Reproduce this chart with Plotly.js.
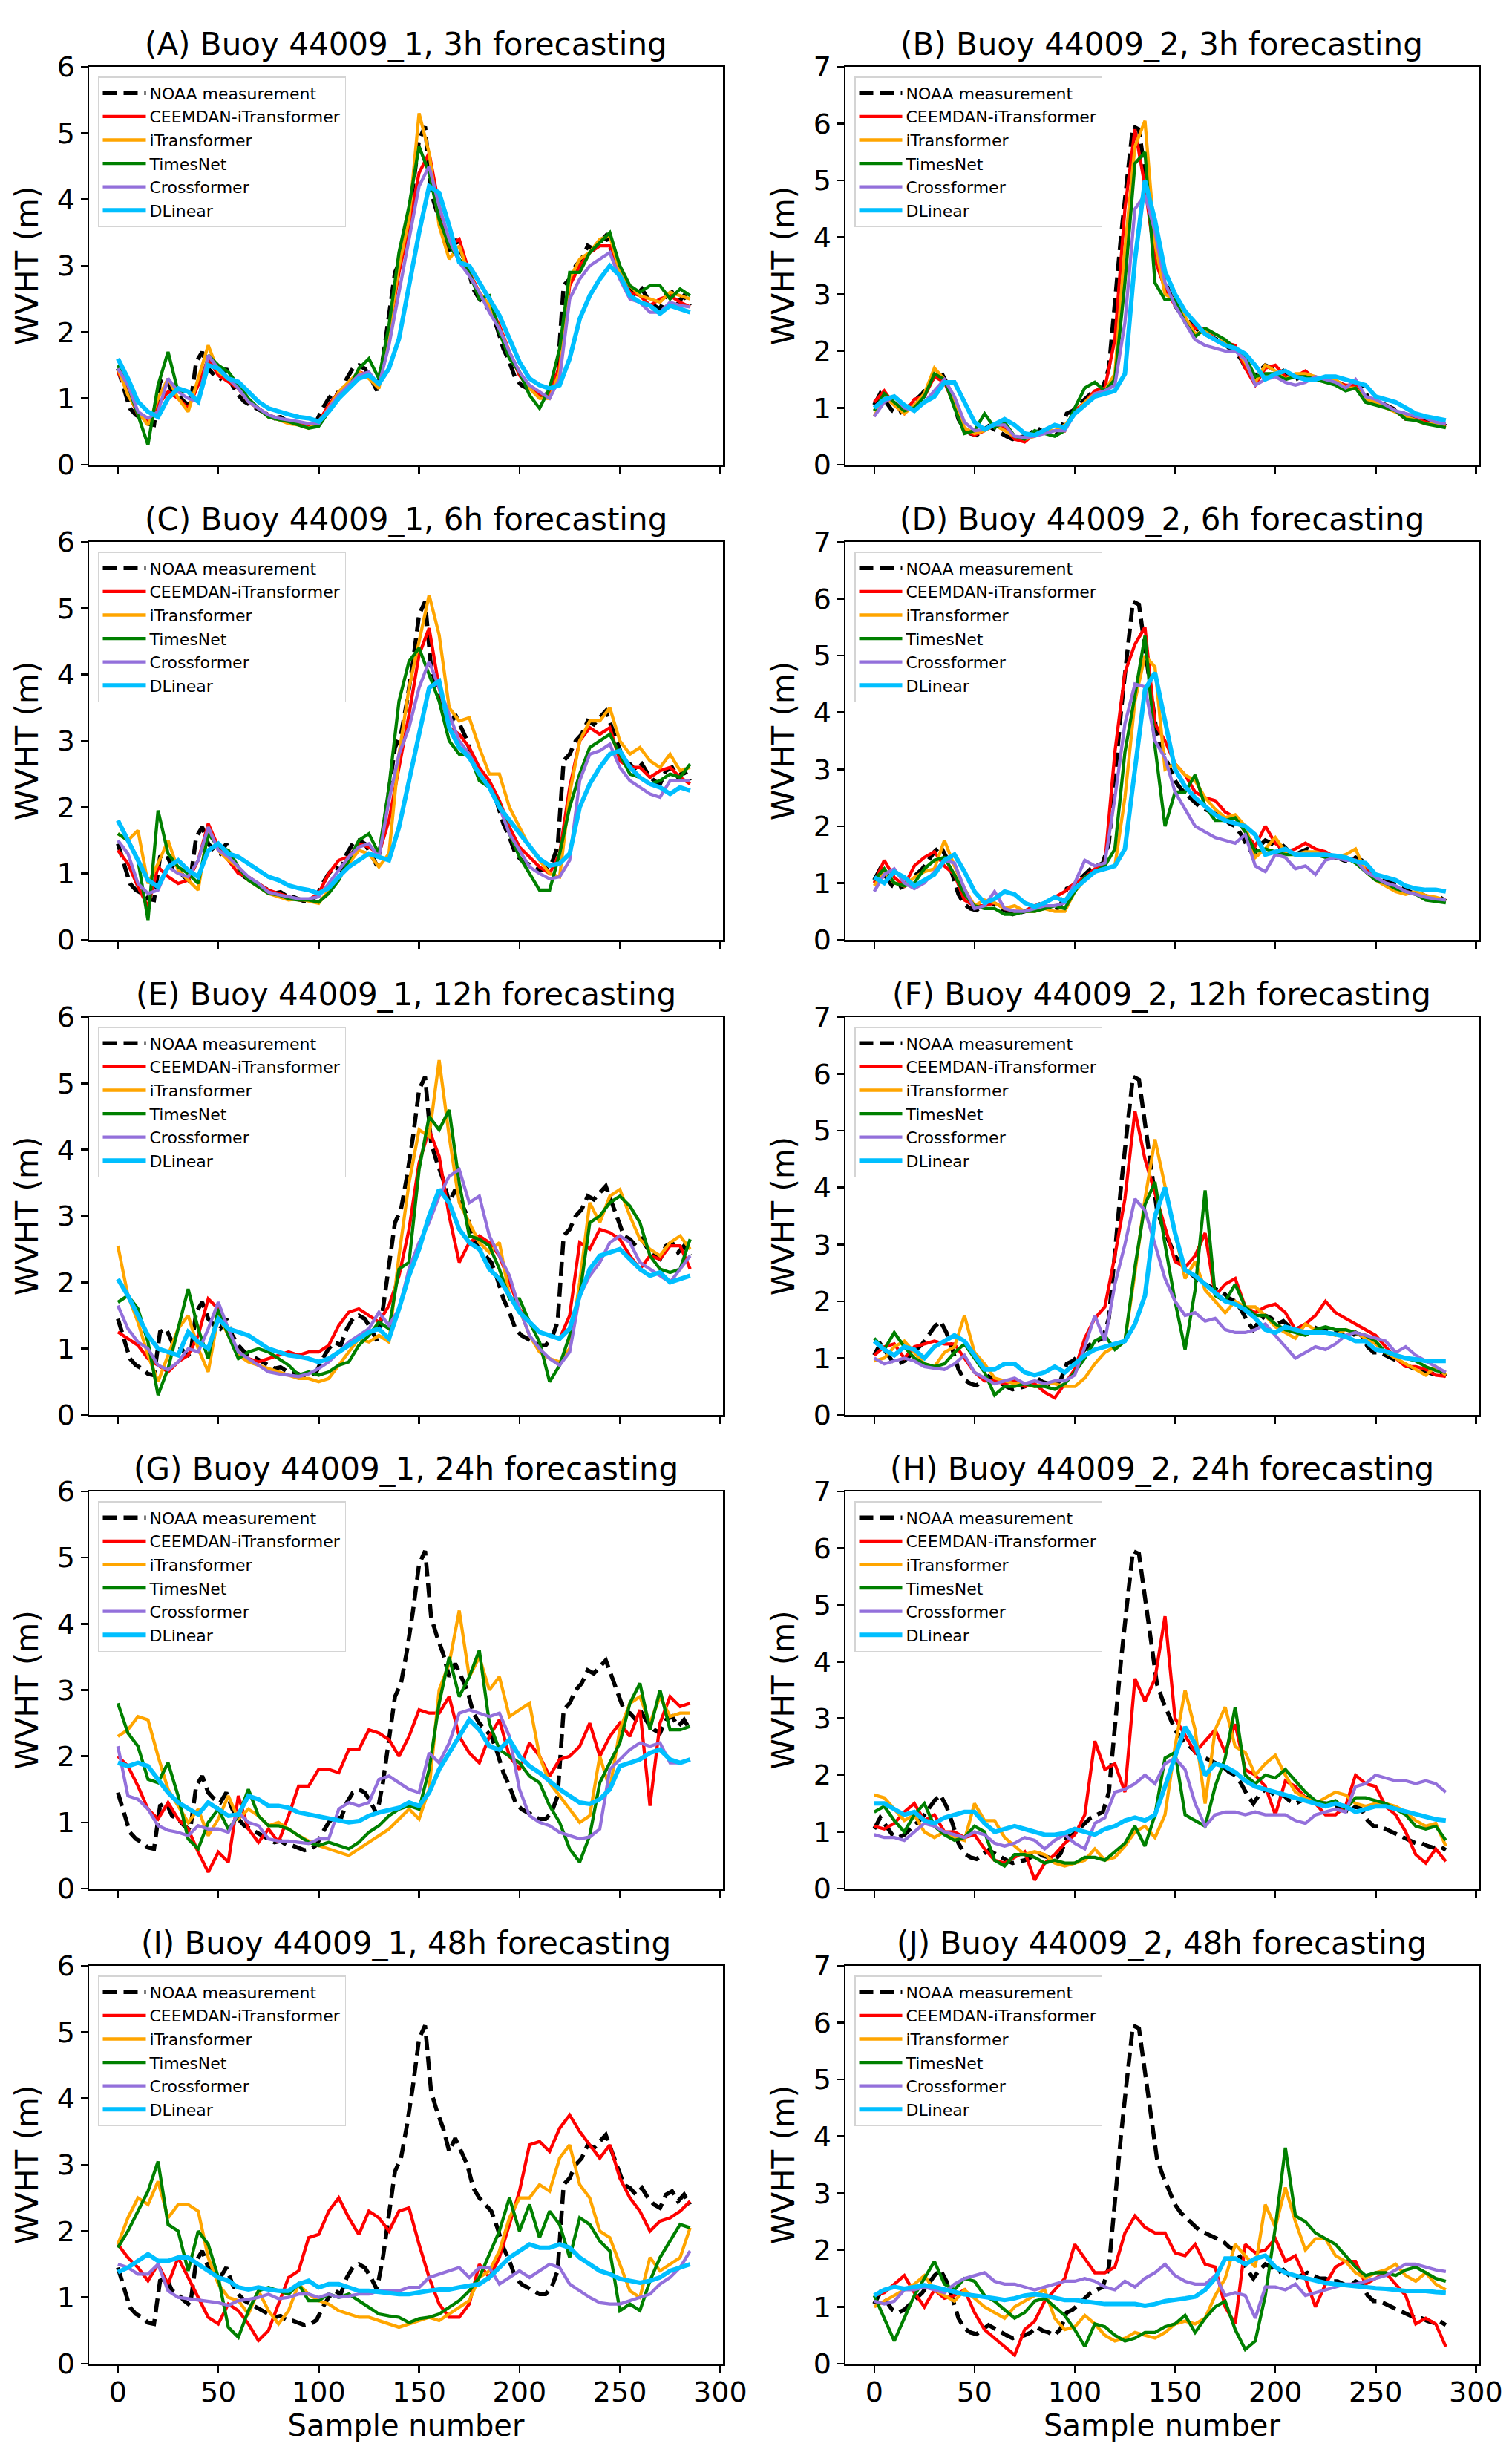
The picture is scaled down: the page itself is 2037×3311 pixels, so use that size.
<!DOCTYPE html>
<html>
<head>
<meta charset="utf-8">
<script src="https://cdn.plot.ly/plotly-3.0.1.min.js"></script>
<style>
  body { margin: 0; background: #fff; }
  #myDiv { width: 2037px; height: 3311px; }
</style>
</head>
<body>
<div id="myDiv"></div>
<script>
// sample numbers (measurement drawn every 3rd sample, forecasts every 5th)
var sampleM = [0,3,6,9,12,15,18,21,24,27,30,33,36,39,42,45,48,51,54,57,60,63,66,69,72,75,78,81,84,87,
  90,93,96,99,102,105,108,111,114,117,120,123,126,129,132,135,138,141,144,147,150,153,156,159,162,165,168,171,174,177,
  180,183,186,189,192,195,198,201,204,207,210,213,216,219,222,225,228,231,234,237,240,243,246,249,252,255,258,261,264,267,
  270,273,276,279,282,285]
var sampleP = [0,5,10,15,20,25,30,35,40,45,50,55,60,65,70,75,80,85,90,95,100,105,110,115,120,125,130,135,140,145,
  150,155,160,165,170,175,180,185,190,195,200,205,210,215,220,225,230,235,240,245,250,255,260,265,270,275,280,285]

// NOAA measurements
var meas1 = [1.45,1.15,0.85,0.75,0.70,0.62,0.60,1.25,1.30,1.10, 1.05,0.95,0.88,1.55,1.70,1.45,1.35,1.30,1.45,1.20,
  1.05,0.95,0.90,0.85,0.80,0.75,0.70,0.72,0.66,0.65, 0.62,0.58,0.60,0.66,0.85,1.00,1.10,1.05,1.30,1.45,
  1.50,1.45,1.30,1.12,1.60,2.30,2.90,3.10,3.60,4.20, 4.90,5.10,4.10,3.80,3.55,3.20,3.40,3.20,3.00,2.65,
  2.50,2.40,2.30,2.05,1.75,1.55,1.30,1.20,1.15,1.10, 1.05,1.05,1.15,1.40,2.70,2.80,3.00,3.10,3.30,3.25,
  3.35,3.45,3.20,2.95,2.70,2.65,2.55,2.65,2.50,2.40, 2.35,2.55,2.60,2.45,2.55,2.40]
var meas2 = [1.05,1.25,1.10,0.95,0.90,0.95,1.05,1.15,1.25,1.40, 1.55,1.65,1.45,1.15,0.80,0.62,0.55,0.52,0.60,0.68,
  0.62,0.55,0.50,0.45,0.47,0.50,0.55,0.65,0.58,0.55, 0.50,0.62,0.90,0.95,1.05,1.15,1.25,1.30,1.35,1.70,
  2.90,4.00,5.00,5.95,5.90,5.10,4.30,3.60,3.30,3.05, 2.80,2.65,2.55,2.45,2.35,2.30,2.25,2.20,2.15,2.05,
  2.00,1.85,1.65,1.50,1.65,1.75,1.70,1.60,1.65,1.55, 1.50,1.55,1.60,1.55,1.50,1.50,1.45,1.45,1.40,1.35,
  1.45,1.40,1.20,1.10,1.10,1.05,1.00,0.95,0.90,0.85, 0.80,0.80,0.75,0.72,0.75,0.68]

// (A) 44009_1, 3h
var ceemdanA = [1.40,1.10,0.75,0.65,0.90,1.10,1.00,0.85,1.20,1.60, 1.35,1.25,1.15,0.95,0.85,0.75,0.70,0.65,0.62,0.60,
  0.65,0.90,1.10,1.20,1.40,1.35,1.20,2.00,2.90,3.60, 4.40,4.70,3.90,3.30,3.40,2.90,2.60,2.40,2.10,1.70,
  1.35,1.15,1.05,1.05,1.50,2.70,3.00,3.20,3.30,3.30, 2.90,2.60,2.55,2.40,2.50,2.55,2.45,2.38]
var itransA = [1.45,1.05,0.80,0.60,1.00,1.30,1.00,0.80,1.30,1.80, 1.40,1.30,1.15,0.95,0.85,0.72,0.68,0.62,0.60,0.55,
  0.62,0.85,1.10,1.25,1.40,1.30,1.15,2.00,3.00,3.70, 5.30,4.70,3.60,3.10,3.30,2.85,2.60,2.40,2.05,1.70,
  1.40,1.15,1.00,1.00,1.40,2.80,3.10,3.20,3.40,3.45, 2.90,2.70,2.55,2.50,2.45,2.60,2.55,2.50]
var timesA = [1.50,1.20,0.75,0.30,1.20,1.70,1.10,1.10,0.95,1.65, 1.50,1.40,1.20,1.00,0.85,0.72,0.68,0.65,0.60,0.55,
  0.58,0.80,1.05,1.15,1.45,1.60,1.30,2.10,3.20,3.90, 4.80,4.40,3.70,3.30,3.10,2.90,2.50,2.55,2.00,1.60,
  1.40,1.05,0.85,1.15,1.75,2.90,2.90,3.20,3.35,3.50, 3.00,2.70,2.60,2.70,2.70,2.50,2.65,2.55]
var crossA = [1.45,1.20,0.80,0.70,0.80,1.30,1.10,1.00,0.95,1.65, 1.45,1.30,1.15,0.95,0.85,0.75,0.70,0.68,0.65,0.62,
  0.62,0.85,1.05,1.20,1.35,1.40,1.20,1.80,2.60,3.40, 4.20,4.50,3.90,3.40,3.05,2.85,2.60,2.30,2.05,1.70,
  1.40,1.20,1.10,1.00,1.30,2.50,2.80,3.00,3.10,3.20, 2.80,2.50,2.45,2.30,2.30,2.45,2.40,2.38]
var dlinA = [1.60,1.30,0.95,0.80,0.72,1.00,1.15,1.10,0.95,1.50, 1.45,1.30,1.25,1.10,0.95,0.85,0.80,0.76,0.72,0.70,
  0.65,0.80,1.00,1.15,1.30,1.35,1.22,1.45,1.90,2.70, 3.50,4.20,4.10,3.60,3.05,3.00,2.75,2.50,2.25,1.90,
  1.55,1.30,1.20,1.15,1.20,1.60,2.20,2.55,2.80,3.00, 2.85,2.55,2.45,2.40,2.28,2.40,2.35,2.30]

// (B) 44009_2, 3h
var ceemdanB = [1.10,1.30,1.05,0.90,1.15,1.20,1.55,1.45,1.05,0.60, 0.52,0.60,0.70,0.65,0.45,0.40,0.55,0.60,0.70,0.60,
  0.95,1.10,1.30,1.35,2.20,4.50,5.90,4.90,3.60,3.10, 2.80,2.55,2.40,2.40,2.20,2.15,2.10,1.70,1.40,1.70,
  1.75,1.55,1.55,1.65,1.50,1.50,1.45,1.40,1.40,1.15, 1.10,1.05,0.95,0.80,0.80,0.75,0.70,0.70]
var itransB = [0.85,1.20,1.05,0.90,1.05,1.25,1.70,1.50,1.10,0.65, 0.55,0.60,0.70,0.60,0.50,0.45,0.50,0.62,0.60,0.70,
  0.90,1.10,1.25,1.30,1.60,3.80,5.60,6.05,3.90,3.00, 2.90,2.60,2.30,2.35,2.20,2.15,2.05,1.80,1.45,1.75,
  1.65,1.50,1.60,1.60,1.55,1.45,1.50,1.35,1.35,1.15, 1.10,1.00,0.92,0.85,0.78,0.72,0.72,0.65]
var timesB = [0.95,1.25,1.10,0.95,1.00,1.20,1.60,1.50,1.00,0.55, 0.60,0.90,0.65,0.75,0.50,0.45,0.60,0.55,0.50,0.60,
  1.00,1.35,1.45,1.30,1.50,3.20,5.30,5.50,3.20,2.90, 2.90,2.50,2.25,2.40,2.30,2.20,2.05,1.90,1.55,1.60,
  1.60,1.50,1.55,1.55,1.50,1.45,1.40,1.30,1.35,1.10, 1.05,1.00,0.95,0.80,0.78,0.72,0.68,0.65]
var crossB = [0.85,1.10,1.20,1.00,0.95,1.10,1.30,1.50,1.20,0.75, 0.60,0.62,0.70,0.70,0.50,0.48,0.50,0.55,0.60,0.60,
  0.90,1.05,1.25,1.30,1.40,2.50,4.50,4.75,4.10,3.20, 2.80,2.50,2.20,2.10,2.05,2.00,2.00,1.85,1.40,1.50,
  1.55,1.45,1.40,1.45,1.55,1.50,1.45,1.35,1.50,1.20, 1.15,1.05,0.95,0.90,0.85,0.82,0.75,0.72]
var dlinB = [1.00,1.15,1.20,1.05,0.95,1.10,1.20,1.45,1.45,1.10, 0.75,0.62,0.70,0.80,0.70,0.55,0.52,0.60,0.70,0.65,
  0.90,1.05,1.20,1.25,1.30,1.60,3.60,5.00,4.30,3.40, 3.00,2.70,2.50,2.30,2.20,2.10,2.05,1.95,1.75,1.50,
  1.60,1.65,1.55,1.50,1.50,1.55,1.55,1.50,1.45,1.40, 1.20,1.15,1.10,1.00,0.90,0.85,0.82,0.78]

// (C) 44009_1, 6h
var ceemdanC = [1.35,1.15,0.80,0.50,1.10,0.95,0.85,0.90,1.20,1.75, 1.40,1.20,1.00,0.95,0.85,0.75,0.70,0.65,0.60,0.60,
  0.70,1.00,1.20,1.25,1.45,1.40,1.30,1.80,2.60,3.40, 4.30,4.70,3.80,3.20,3.10,2.90,2.60,2.40,2.10,1.70,
  1.40,1.25,1.10,1.00,1.30,2.30,3.00,3.20,3.10,3.20, 2.70,2.60,2.60,2.45,2.55,2.60,2.45,2.35]
var itransC = [1.60,1.50,1.65,0.85,1.15,1.50,1.05,0.90,0.75,1.70, 1.35,1.20,1.10,0.90,0.80,0.70,0.65,0.60,0.62,0.58,
  0.55,0.75,0.95,1.15,1.35,1.30,1.10,1.30,2.80,3.80, 4.50,5.20,4.60,3.50,3.30,3.35,2.90,2.50,2.50,2.00,
  1.70,1.40,1.20,1.00,0.95,2.20,3.00,3.30,3.30,3.50, 3.00,2.80,2.90,2.70,2.60,2.80,2.55,2.60]
var timesC = [1.60,1.50,1.20,0.30,1.95,1.30,1.10,1.00,0.85,1.60, 1.40,1.35,1.10,0.90,0.80,0.70,0.68,0.62,0.60,0.60,
  0.57,0.70,0.90,1.20,1.50,1.60,1.30,2.30,3.60,4.20, 4.40,4.00,3.60,3.00,2.80,2.80,2.40,2.30,2.05,1.60,
  1.25,1.00,0.75,0.75,1.30,2.00,2.50,2.90,3.00,3.10, 2.80,2.50,2.45,2.35,2.40,2.50,2.45,2.65]
var crossC = [1.50,1.30,0.85,0.70,0.75,1.10,1.00,0.95,1.20,1.70, 1.35,1.25,1.10,0.95,0.85,0.72,0.68,0.65,0.62,0.62,
  0.65,0.85,1.05,1.25,1.40,1.45,1.25,2.10,2.80,3.20, 3.80,4.20,3.80,3.40,3.00,2.80,2.50,2.30,2.00,1.60,
  1.35,1.10,1.00,0.92,0.95,1.20,2.40,2.80,2.85,2.95, 2.60,2.40,2.30,2.20,2.15,2.40,2.40,2.40]
var dlinC = [1.80,1.50,1.20,0.90,0.80,1.10,1.20,1.05,0.95,1.35, 1.45,1.30,1.25,1.15,1.05,0.95,0.90,0.82,0.78,0.75,
  0.70,0.78,0.95,1.10,1.20,1.30,1.25,1.20,1.70,2.40, 3.10,3.80,3.90,3.20,2.90,2.75,2.50,2.30,2.00,1.80,
  1.60,1.40,1.22,1.12,1.15,1.30,2.00,2.35,2.60,2.80, 2.85,2.60,2.45,2.35,2.30,2.20,2.30,2.25]

// (D) 44009_2, 6h
var ceemdanD = [1.00,1.40,1.10,0.95,1.30,1.45,1.55,1.30,1.15,0.70, 0.60,0.60,0.65,0.55,0.50,0.50,0.60,0.65,0.75,0.85,
  1.00,1.10,1.25,1.35,3.30,4.70,5.20,5.50,3.80,3.50, 3.10,2.90,2.60,2.50,2.45,2.25,2.15,1.90,1.65,2.00,
  1.70,1.55,1.60,1.70,1.60,1.55,1.45,1.45,1.40,1.25, 1.10,1.00,0.90,0.85,0.80,0.78,0.72,0.70]
var itransD = [0.95,1.20,1.00,0.95,1.10,1.20,1.25,1.75,1.30,0.90, 0.60,0.70,0.65,0.55,0.60,0.50,0.50,0.55,0.50,0.50,
  0.85,1.05,1.20,1.25,1.30,2.50,4.20,5.00,4.80,3.00, 3.10,2.90,2.80,2.50,2.30,2.15,2.20,2.00,1.45,1.60,
  1.80,1.55,1.50,1.55,1.55,1.50,1.45,1.50,1.60,1.20, 1.05,0.95,0.85,0.80,0.85,0.78,0.75,0.70]
var timesD = [1.05,1.25,1.00,0.95,1.00,1.25,1.40,1.45,1.15,0.80, 0.60,0.55,0.55,0.45,0.45,0.50,0.50,0.55,0.60,0.55,
  0.85,1.10,1.20,1.30,1.60,3.30,4.30,5.35,3.40,2.00, 2.60,2.60,2.90,2.35,2.10,2.10,2.15,1.90,1.55,1.60,
  1.55,1.50,1.50,1.50,1.50,1.45,1.45,1.45,1.35,1.20, 1.05,1.00,0.90,0.85,0.80,0.70,0.68,0.65]
var crossD = [0.85,1.15,1.25,1.00,0.90,1.00,1.20,1.40,1.35,0.90, 0.55,0.60,0.85,0.55,0.50,0.50,0.55,0.60,0.60,0.65,
  1.00,1.40,1.30,1.35,2.50,3.80,4.50,4.45,3.50,3.20, 2.60,2.30,2.00,1.90,1.80,1.75,1.70,1.85,1.30,1.20,
  1.50,1.45,1.25,1.30,1.15,1.40,1.45,1.40,1.40,1.20, 1.10,1.00,0.95,0.85,0.80,0.75,0.72,0.70]
var dlinD = [1.10,1.00,1.20,1.10,0.95,1.05,1.15,1.40,1.50,1.20, 0.85,0.65,0.72,0.85,0.80,0.65,0.58,0.65,0.75,0.68,
  0.90,1.05,1.20,1.25,1.30,1.60,3.00,4.40,4.70,3.80, 3.00,2.70,2.50,2.35,2.20,2.10,2.05,2.00,1.85,1.50,
  1.55,1.60,1.50,1.50,1.50,1.50,1.48,1.45,1.38,1.35, 1.15,1.10,1.05,0.95,0.90,0.88,0.88,0.85]

// (E) 44009_1, 12h
var ceemdanE = [1.25,1.15,1.05,0.85,0.75,0.65,0.80,0.90,1.20,1.75, 1.60,1.25,0.95,0.85,0.80,0.85,0.90,0.95,0.90,0.95,
  0.95,1.05,1.35,1.55,1.60,1.50,1.40,1.65,2.10,2.80, 3.80,4.30,3.90,3.00,2.30,2.60,2.70,2.60,2.40,2.00,
  1.60,1.40,1.25,1.20,1.15,1.50,2.60,2.50,2.80,2.75, 2.65,2.40,2.20,2.40,2.35,2.55,2.55,2.20]
var itransE = [2.55,1.80,1.40,0.90,0.50,0.90,1.30,1.50,1.00,0.65, 1.50,1.20,0.90,0.80,0.75,0.70,0.65,0.60,0.55,0.55,
  0.50,0.55,0.75,0.95,1.15,1.10,1.20,1.10,2.40,3.50, 4.30,4.20,5.35,4.20,3.20,2.90,2.60,2.45,2.60,1.80,
  1.60,1.20,0.95,0.85,0.80,1.00,2.00,3.20,2.90,3.30, 3.40,3.00,2.65,2.50,2.40,2.60,2.70,2.50]
var timesE = [1.70,1.80,1.60,1.10,0.30,0.70,1.30,1.90,1.30,0.85, 1.60,1.20,0.85,0.95,1.00,0.95,0.85,0.75,0.60,0.65,
  0.60,0.65,0.75,0.80,1.05,1.20,1.40,1.30,2.20,2.30, 3.70,4.50,4.30,4.60,3.50,2.70,2.65,2.55,2.20,1.75,
  1.75,1.40,1.10,0.50,0.75,1.20,1.80,2.90,3.00,3.20, 3.30,3.15,2.90,2.40,2.20,2.15,2.20,2.65]
var crossE = [1.65,1.30,1.10,1.00,0.75,0.68,0.80,1.00,0.95,1.30, 1.70,1.30,0.95,0.85,0.75,0.65,0.62,0.60,0.58,0.62,
  0.70,0.80,0.95,1.10,1.20,1.30,1.55,1.35,1.60,2.20, 2.60,2.90,3.30,3.60,3.70,3.20,3.30,2.70,2.40,2.10,
  1.60,1.20,1.00,0.85,0.75,0.95,1.80,2.10,2.30,2.60, 2.70,2.60,2.30,2.20,2.10,2.00,2.20,2.40]
var dlinE = [2.05,1.80,1.50,1.20,1.00,0.95,0.90,1.25,1.10,1.00, 1.45,1.30,1.25,1.20,1.10,1.00,0.95,0.90,0.88,0.85,
  0.80,0.85,0.95,1.05,1.15,1.25,1.30,1.15,1.60,2.10, 2.50,3.00,3.40,3.20,2.80,2.60,2.50,2.20,2.05,1.80,
  1.55,1.40,1.25,1.20,1.15,1.30,1.80,2.20,2.40,2.45, 2.50,2.35,2.20,2.10,2.15,2.00,2.05,2.10]

// (F) 44009_2, 12h
var ceemdanF = [1.05,1.20,1.25,1.00,1.20,1.25,1.30,1.25,1.25,1.00, 0.75,0.60,0.60,0.55,0.60,0.50,0.55,0.40,0.30,0.55,
  0.80,1.35,1.70,1.90,2.80,3.80,5.35,4.50,3.90,3.30, 2.70,2.60,2.80,3.20,2.10,2.30,2.40,1.90,1.80,1.90,
  1.95,1.80,1.50,1.60,1.75,2.00,1.80,1.70,1.60,1.50, 1.40,1.20,1.00,0.85,0.85,0.80,0.70,0.68]
var itransF = [0.95,1.00,1.20,1.30,1.10,0.90,0.85,1.10,1.20,1.75, 1.10,0.90,0.65,0.60,0.55,0.55,0.50,0.55,0.55,0.50,
  0.50,0.65,0.90,1.10,1.20,1.30,2.50,3.80,4.85,4.00, 3.20,2.40,2.70,2.20,2.00,1.80,2.00,1.90,1.90,1.75,
  1.55,1.45,1.35,1.60,1.50,1.45,1.40,1.50,1.45,1.35, 1.25,1.10,1.00,0.90,0.80,0.70,0.85,0.70]
var timesF = [1.35,1.15,1.45,1.20,1.00,0.90,0.85,0.90,1.10,1.25, 1.00,0.75,0.35,0.50,0.50,0.55,0.50,0.50,0.45,0.55,
  0.75,1.00,1.30,1.40,1.15,1.30,2.60,3.70,4.10,3.00, 2.00,1.15,2.20,3.95,2.10,2.00,2.30,1.90,1.75,1.75,
  1.60,1.50,1.45,1.40,1.50,1.55,1.50,1.50,1.45,1.40, 1.30,1.10,1.05,1.00,0.95,0.85,0.78,0.75]
var crossF = [1.00,0.90,0.95,1.00,0.95,0.85,0.82,0.80,0.90,1.05, 0.75,0.65,0.55,0.60,0.65,0.55,0.60,0.55,0.60,0.60,
  0.70,1.20,1.75,1.30,2.30,3.00,3.80,3.60,3.00,2.40, 2.00,1.75,1.80,1.65,1.70,1.50,1.45,1.45,1.50,1.60,
  1.40,1.20,1.00,1.10,1.20,1.15,1.25,1.40,1.45,1.40, 1.35,1.30,1.10,1.20,1.05,0.95,0.85,0.75]
var dlinF = [1.30,1.15,1.05,1.20,1.15,1.00,1.20,1.30,1.40,1.30, 1.05,0.80,0.80,0.90,0.90,0.75,0.70,0.75,0.85,0.75,
  0.90,1.05,1.15,1.20,1.25,1.30,1.60,2.10,3.50,4.00, 3.20,2.55,2.45,2.30,2.15,2.00,1.95,1.85,1.70,1.50,
  1.45,1.55,1.50,1.45,1.45,1.45,1.42,1.38,1.30,1.30, 1.15,1.12,1.05,1.00,0.98,0.95,0.95,0.95]

// (G) 44009_1, 24h
var ceemdanG = [2.00,1.85,1.55,1.20,1.05,1.30,1.05,0.90,0.55,0.25, 0.55,0.40,1.40,0.90,0.70,0.90,0.70,1.10,1.55,1.55,
  1.80,1.80,1.75,2.10,2.10,2.40,2.35,2.25,2.00,2.30, 2.70,2.65,2.65,2.90,2.30,2.05,1.90,2.30,2.55,2.00,
  1.80,2.20,2.00,1.70,1.95,2.00,2.15,2.50,2.00,2.30, 2.50,2.30,2.70,1.25,2.50,2.90,2.75,2.80]
var itransG = [2.30,2.40,2.60,2.55,2.00,1.50,1.25,1.00,1.20,0.80, 1.05,1.40,1.05,1.20,1.10,0.95,1.00,0.90,0.80,0.72,
  0.65,0.60,0.55,0.50,0.60,0.70,0.80,0.90,1.05,1.20, 1.05,1.50,3.00,3.40,4.20,3.20,3.50,3.00,3.20,2.60,
  2.70,2.80,2.00,1.60,1.40,1.20,1.00,1.10,2.00,1.50, 2.40,2.80,2.90,2.50,2.90,2.60,2.65,2.65]
var timesG = [2.80,2.35,2.15,1.65,1.60,1.90,1.40,0.75,0.60,1.00, 1.20,0.90,1.10,1.50,1.10,0.95,0.95,0.90,0.80,0.70,
  0.65,0.70,0.65,0.60,0.70,0.85,0.95,1.10,1.20,1.25, 1.20,1.80,2.80,3.50,2.90,3.20,3.60,2.50,2.10,2.00,
  1.90,1.70,1.60,1.25,1.00,0.60,0.40,0.80,1.60,1.90, 2.20,2.80,3.10,2.40,3.00,2.40,2.40,2.45]
var crossG = [2.15,1.40,1.35,1.20,0.95,0.88,0.85,0.80,0.95,0.90, 0.90,0.85,1.15,1.00,0.95,0.75,0.72,0.72,0.70,0.68,
  0.75,0.75,1.20,1.30,1.25,1.30,1.65,1.70,1.60,1.50, 1.45,2.05,1.90,2.20,2.65,2.70,2.65,2.60,2.65,2.30,
  1.50,1.10,1.00,0.95,0.85,0.80,0.75,0.78,0.90,1.80, 1.95,2.10,2.20,2.15,2.20,1.90,1.90,1.95]
var dlinG = [1.90,1.85,1.90,1.85,1.65,1.45,1.30,1.20,1.12,1.30, 1.20,1.10,1.12,1.40,1.35,1.25,1.25,1.22,1.15,1.12,
  1.08,1.05,1.02,1.00,1.02,1.10,1.15,1.18,1.22,1.30, 1.25,1.45,1.80,2.05,2.30,2.55,2.40,2.15,2.10,2.25,
  2.00,1.85,1.75,1.62,1.50,1.40,1.30,1.28,1.35,1.50, 1.85,1.90,1.95,2.05,2.10,1.95,1.90,1.95]

// (H) 44009_2, 24h
var ceemdanH = [1.10,1.05,1.15,1.35,1.50,1.20,1.30,1.00,1.00,0.90, 0.95,0.70,0.50,0.45,0.55,0.65,0.15,0.45,0.60,0.80,
  0.95,1.30,2.60,2.10,2.20,1.70,3.70,3.30,3.70,4.80, 3.00,2.70,2.40,2.60,2.80,2.40,2.90,2.10,2.00,1.80,
  1.30,1.90,1.80,1.60,1.50,1.30,1.30,1.45,2.00,1.85, 1.80,1.45,1.30,1.00,0.60,0.45,0.70,0.48]
var itransH = [1.65,1.60,1.40,1.20,1.30,1.00,0.90,1.00,0.90,0.85, 1.50,1.20,1.20,0.90,0.75,0.60,0.65,0.60,0.45,0.40,
  0.45,0.50,0.70,0.50,0.55,0.75,1.00,1.10,0.90,1.30, 2.50,3.50,2.80,1.50,2.80,3.20,2.50,2.40,2.00,2.20,
  2.35,2.00,1.70,1.60,1.50,1.60,1.70,1.65,1.50,1.45, 1.50,1.50,1.45,1.35,1.20,1.10,1.15,0.75]
var timesH = [1.35,1.45,1.20,1.00,1.30,1.50,1.10,0.95,0.85,0.90, 1.10,1.00,0.50,0.40,0.60,0.60,0.55,0.45,0.50,0.45,
  0.45,0.55,0.55,0.50,0.65,0.80,1.10,0.75,1.30,2.30, 2.40,1.30,1.20,1.10,1.80,2.30,3.20,2.00,1.85,2.00,
  1.95,2.10,1.90,1.70,1.55,1.50,1.55,1.40,1.60,1.60, 1.55,1.50,1.40,1.30,1.10,1.05,1.10,0.85]
var crossH = [0.95,0.90,0.90,0.85,1.00,1.15,1.10,1.00,0.95,0.90, 1.00,0.95,0.80,0.75,0.80,0.90,0.85,0.70,0.85,0.95,
  0.80,0.70,1.15,1.25,1.70,1.75,1.85,2.00,1.85,2.20, 2.30,2.10,1.50,1.10,1.30,1.35,1.35,1.30,1.35,1.30,
  1.30,1.30,1.20,1.15,1.30,1.35,1.40,1.35,1.80,1.85, 2.00,1.95,1.90,1.90,1.85,1.90,1.85,1.70]
var dlinH = [1.50,1.50,1.40,1.30,1.35,1.20,1.15,1.25,1.30,1.35, 1.35,1.15,1.00,1.05,1.10,1.05,1.00,0.95,0.95,0.98,
  1.05,1.00,0.95,1.05,1.10,1.20,1.25,1.20,1.30,1.80, 2.30,2.85,2.55,2.00,2.20,2.15,2.05,1.90,1.80,1.75,
  1.70,1.65,1.60,1.55,1.50,1.45,1.50,1.45,1.35,1.40, 1.45,1.45,1.40,1.35,1.30,1.25,1.22,1.20]

// (I) 44009_1, 48h
var ceemdanI = [1.80,1.60,1.45,1.25,1.50,1.20,1.60,1.30,1.00,0.70, 0.60,0.90,0.80,0.60,0.35,0.50,0.90,1.30,1.40,1.90,
  1.95,2.30,2.50,2.20,1.95,2.30,2.20,2.00,2.30,2.35, 1.80,1.30,0.90,0.70,0.70,0.90,1.50,1.30,1.60,2.10,
  2.60,3.30,3.35,3.20,3.55,3.75,3.50,3.30,3.10,3.30, 2.80,2.50,2.30,2.00,2.15,2.20,2.30,2.45]
var itransI = [1.80,2.20,2.50,2.40,2.75,2.20,2.40,2.40,2.30,1.60, 1.20,1.00,0.95,0.75,1.10,0.80,0.60,0.80,1.20,1.05,
  0.95,0.90,0.80,0.75,0.70,0.70,0.65,0.60,0.55,0.60, 0.65,0.70,0.65,0.75,0.85,0.95,1.30,1.40,1.70,2.20,
  2.50,2.50,2.70,2.60,3.10,3.30,2.70,2.50,2.00,1.90, 1.50,1.10,1.00,1.60,1.40,1.50,1.60,2.05]
var timesI = [1.75,2.00,2.30,2.60,3.05,2.10,2.00,1.40,2.00,1.80, 1.30,0.55,0.40,0.80,1.10,1.15,1.10,1.05,1.20,0.95,
  0.95,1.05,1.00,1.05,0.95,0.85,0.75,0.72,0.70,0.62, 0.68,0.70,0.75,0.85,0.95,1.10,1.30,1.65,2.00,2.50,
  2.00,2.40,1.90,2.30,2.10,1.60,2.20,2.10,1.85,1.70, 0.80,0.90,0.80,1.25,1.60,1.85,2.10,2.05]
var crossI = [1.50,1.45,1.35,1.35,1.50,1.10,1.00,0.98,0.95,0.93, 0.92,0.88,0.95,0.97,1.00,1.05,0.98,1.00,1.05,1.05,
  1.00,1.05,1.00,1.02,1.05,1.05,1.10,1.10,1.10,1.15, 1.15,1.30,1.35,1.40,1.45,1.30,1.45,1.45,1.20,1.30,
  1.40,1.30,1.40,1.50,1.45,1.20,1.10,1.00,0.92,0.90, 0.90,0.95,1.00,1.05,1.20,1.30,1.45,1.70]
var dlinI = [1.38,1.45,1.55,1.65,1.55,1.55,1.60,1.60,1.50,1.40, 1.30,1.25,1.15,1.12,1.15,1.12,1.10,1.10,1.20,1.25,
  1.15,1.20,1.20,1.15,1.10,1.10,1.08,1.06,1.05,1.05, 1.08,1.10,1.12,1.12,1.15,1.18,1.20,1.30,1.45,1.60,
  1.70,1.80,1.75,1.75,1.80,1.75,1.60,1.50,1.40,1.35, 1.28,1.25,1.22,1.25,1.30,1.40,1.45,1.50]

// (J) 44009_2, 48h
var ceemdanJ = [1.20,1.25,1.40,1.55,1.25,1.00,1.30,1.15,1.20,1.30, 0.90,0.60,0.45,0.30,0.15,0.60,0.75,1.10,1.30,1.50,
  2.10,1.85,1.60,1.60,1.70,2.30,2.60,2.40,2.30,2.30, 1.95,1.90,2.10,1.75,1.70,1.00,0.70,2.10,1.95,2.00,
  2.20,1.80,1.90,1.50,1.00,1.40,1.70,1.80,1.80,1.40, 1.50,1.60,1.40,1.20,0.70,0.80,0.70,0.30]
var itransJ = [1.00,1.10,1.20,1.30,1.40,1.55,1.30,1.20,1.10,1.30, 1.15,1.00,0.90,0.80,1.00,1.10,1.20,1.30,0.80,0.60,
  0.65,0.85,0.70,0.50,0.40,0.45,0.55,0.50,0.45,0.55, 0.70,0.75,0.70,0.80,1.20,1.50,2.10,1.90,1.70,2.80,
  2.40,3.10,2.50,2.00,2.20,2.20,1.90,1.80,1.60,1.50, 1.60,1.65,1.75,1.55,1.45,1.60,1.40,1.30]
var timesJ = [1.20,0.80,0.40,0.80,1.20,1.50,1.80,1.40,1.30,1.50, 1.45,1.20,1.10,0.95,0.80,0.90,1.10,1.15,1.00,0.85,
  0.60,0.30,0.70,0.65,0.50,0.40,0.45,0.55,0.55,0.65, 0.70,0.85,0.55,0.80,1.00,1.10,0.60,0.25,0.40,1.20,
  2.40,3.80,2.60,2.50,2.30,2.20,2.10,1.90,1.70,1.55, 1.60,1.60,1.55,1.65,1.70,1.60,1.50,1.45]
var crossJ = [1.10,1.05,1.10,1.30,1.30,1.35,1.30,1.25,1.40,1.50, 1.55,1.60,1.45,1.40,1.40,1.35,1.30,1.35,1.40,1.45,
  1.45,1.50,1.45,1.35,1.30,1.45,1.35,1.50,1.60,1.75, 1.55,1.45,1.40,1.40,1.55,1.20,1.25,1.20,0.80,1.35,
  1.35,1.30,1.40,1.20,1.25,1.30,1.35,1.40,1.40,1.45, 1.50,1.55,1.65,1.75,1.75,1.70,1.65,1.62]
var dlinJ = [1.20,1.30,1.35,1.32,1.35,1.38,1.35,1.30,1.25,1.22, 1.20,1.18,1.15,1.12,1.15,1.20,1.22,1.20,1.15,1.12,
  1.12,1.10,1.08,1.05,1.05,1.05,1.05,1.02,1.05,1.10, 1.12,1.15,1.18,1.30,1.50,1.85,1.85,1.75,1.85,1.90,
  1.70,1.60,1.55,1.50,1.45,1.42,1.40,1.38,1.36,1.34, 1.33,1.32,1.30,1.28,1.28,1.28,1.26,1.25]

var titles = ['(A) Buoy 44009_1, 3h forecasting', '(B) Buoy 44009_2, 3h forecasting',
  '(C) Buoy 44009_1, 6h forecasting', '(D) Buoy 44009_2, 6h forecasting',
  '(E) Buoy 44009_1, 12h forecasting', '(F) Buoy 44009_2, 12h forecasting',
  '(G) Buoy 44009_1, 24h forecasting', '(H) Buoy 44009_2, 24h forecasting',
  '(I) Buoy 44009_1, 48h forecasting', '(J) Buoy 44009_2, 48h forecasting']
var models = ['CEEMDAN-iTransformer', 'iTransformer', 'TimesNet', 'Crossformer', 'DLinear']
var modelColors = ['#ff0000', '#ffa500', '#008000', '#9370db', '#00bfff']
var modelWidths = [4.3, 4.3, 4.3, 4.3, 6]

var preds = [
  [ceemdanA, itransA, timesA, crossA, dlinA],
  [ceemdanB, itransB, timesB, crossB, dlinB],
  [ceemdanC, itransC, timesC, crossC, dlinC],
  [ceemdanD, itransD, timesD, crossD, dlinD],
  [ceemdanE, itransE, timesE, crossE, dlinE],
  [ceemdanF, itransF, timesF, crossF, dlinF],
  [ceemdanG, itransG, timesG, crossG, dlinG],
  [ceemdanH, itransH, timesH, crossH, dlinH],
  [ceemdanI, itransI, timesI, crossI, dlinI],
  [ceemdanJ, itransJ, timesJ, crossJ, dlinJ]
]

var W = 2037, H = 3311
var colX = [[120, 974], [1139, 1992]]
var rowY = [[90, 626], [730, 1266], [1370, 1906], [2009, 2544], [2648, 3184]]
var font = 'DejaVu Sans'

var data = []
var layout = {
  width: W, height: H,
  margin: {l: 0, r: 0, t: 0, b: 0},
  paper_bgcolor: '#fff', plot_bgcolor: '#fff',
  font: {family: font, color: '#000'},
  showlegend: true,
  annotations: []
}

for (var i = 0; i < 10; i++) {
  var row = Math.floor(i / 2), col = i % 2
  var n = i === 0 ? '' : String(i + 1)
  var xa = 'x' + n, ya = 'y' + n
  var lg = 'legend' + n
  var meas = col === 0 ? meas1 : meas2
  var xd = [colX[col][0] / W, colX[col][1] / W]
  var yd = [1 - rowY[row][1] / H, 1 - rowY[row][0] / H]

  data.push({
    x: sampleM, y: meas, xaxis: xa, yaxis: ya, legend: lg,
    name: 'NOAA measurement', type: 'scatter', mode: 'lines',
    line: {color: '#000', width: 5.5, dash: '19px,9px'}
  })
  for (var m = 0; m < 5; m++) {
    data.push({
      x: sampleP, y: preds[i][m], xaxis: xa, yaxis: ya, legend: lg,
      name: models[m], type: 'scatter', mode: 'lines',
      line: {color: modelColors[m], width: modelWidths[m]}
    })
  }

  var bottom = row === 4
  layout['xaxis' + n] = {
    domain: xd, anchor: ya, range: [-14.35, 301.35],
    tickvals: [0, 50, 100, 150, 200, 250, 300],
    showticklabels: bottom, ticks: 'outside', ticklen: 9, tickwidth: 2.5, tickcolor: '#000',
    ticklabelstandoff: -6,
    showline: true, mirror: true, linecolor: '#000', linewidth: 2.5,
    showgrid: false, zeroline: false, automargin: false,
    tickfont: {size: 38, family: font},
    title: bottom ? {text: 'Sample number', font: {size: 40, family: font}, standoff: 6} : {text: ''}
  }
  layout['yaxis' + n] = {
    domain: yd, anchor: xa, range: [0, col === 0 ? 6 : 7], dtick: 1,
    ticks: 'outside', ticklen: 9, tickwidth: 2.5, tickcolor: '#000',
    showline: true, mirror: true, linecolor: '#000', linewidth: 2.5,
    showgrid: false, zeroline: false, automargin: false,
    tickfont: {size: 38, family: font},
    title: {text: 'WVHT (m)', font: {size: 42, family: font}, standoff: 12}
  }
  layout[lg] = {
    x: (colX[col][0] + 12) / W, y: yd[1] - 13 / H, xanchor: 'left', yanchor: 'top',
    bgcolor: 'rgba(255,255,255,0.85)', bordercolor: '#d4d4d4', borderwidth: 1.5,
    font: {size: 22, family: font}, itemwidth: 58, tracegroupgap: 0
  }
  layout.annotations.push({
    text: titles[i], xref: 'paper', yref: 'paper',
    x: (xd[0] + xd[1]) / 2, y: yd[1], xanchor: 'center', yanchor: 'bottom', yshift: 4,
    showarrow: false, font: {size: 42, family: font, color: '#000'}
  })
}

Plotly.newPlot('myDiv', data, layout, {displayModeBar: false, staticPlot: true})
</script>
</body>
</html>
